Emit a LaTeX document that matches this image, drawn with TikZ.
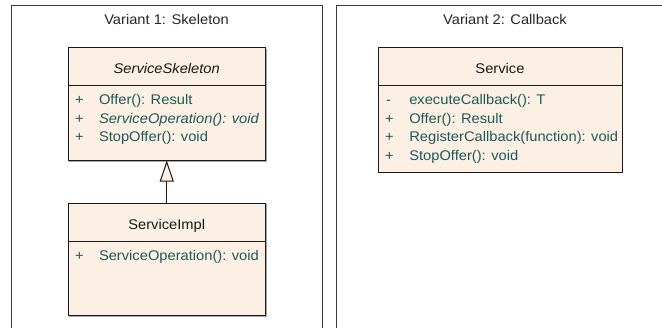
\documentclass[tikz,border=0pt]{standalone}
\usepackage{fontspec}
\setmainfont[FakeStretch=1.05]{Liberation Sans}
\usetikzlibrary{arrows.meta,shadows}
\definecolor{umlfill}{RGB}{251,240,227}
\definecolor{umltext}{RGB}{30,90,90}
\definecolor{framecol}{RGB}{60,60,60}
\tikzset{
  classbox/.style={draw=black!90,line width=1pt,fill=umlfill,inner sep=0pt,outer sep=0pt,
    drop shadow={shadow xshift=1.2pt,shadow yshift=-1.2pt,opacity=0.35,fill=black}},
  divider/.style={draw=black!90,line width=0.8pt},
  frameline/.style={draw=framecol,line width=1pt},
  txt/.style={inner sep=0pt,outer sep=0pt,font=\fontsize{14}{16}\selectfont},
  ftitle/.style={txt,text=black!85,anchor=base},
  ctitle/.style={txt,text=black!90,anchor=base},
  attr/.style={txt,text=umltext,anchor=base west},
  genarrow/.style={line width=1pt,draw=black!90,-{Triangle[open,length=21pt,width=14pt,fill=umlfill]}}
}
\begin{document}
\begin{tikzpicture}[x=1pt,y=-1pt]
\useasboundingbox (0,0) rectangle (662,327);
\fill[white] (0,0) rectangle (662,327);
% frames
\draw[frameline] (11,340) -- (11,5) -- (322,5) -- (322,340);
\draw[frameline] (336,340) -- (336,5) -- (675,5);
\node[ftitle] (f1title) at (166.5,24.3) {Variant 1: Skeleton};
\node[ftitle] (f2title) at (505,24.3) {Variant 2: Callback};
% ServiceSkeleton
\node[classbox,minimum width=197.5pt,minimum height=113pt] (skel) at (166.75,104) {};
\draw[divider] (68,85) -- (265.5,85);
\node[ctitle] (skelname) at (166.75,73.3) {\itshape ServiceSkeleton};
\node[attr] (sk1v) at (75,104.3) {+};
\node[attr] (sk1) at (99,104.3) {Offer(): Result};
\node[attr] (sk2v) at (75,123) {+};
\node[attr] (sk2) at (99,123) {\itshape ServiceOperation(): void};
\node[attr] (sk3v) at (75,141.7) {+};
\node[attr] (sk3) at (99,141.7) {StopOffer(): void};
% ServiceImpl
\node[classbox,minimum width=197.5pt,minimum height=112.5pt] (impl) at (166.75,259.25) {};
\draw[divider] (68,241) -- (265.5,241);
\node[ctitle] (implname) at (166.75,229.3) {ServiceImpl};
\node[attr] (im1v) at (75,260) {+};
\node[attr] (im1) at (99,260) {ServiceOperation(): void};
% generalization
\draw[genarrow] (impl.north) -- (skel.south);
% Service
\node[classbox,minimum width=244pt,minimum height=124.5pt] (svc) at (500,109.75) {};
\draw[divider] (378,85) -- (622,85);
\node[ctitle] (svcname) at (500,73.3) {Service};
\node[attr] (sv1v) at (386,104.3) {-};
\node[attr] (sv1) at (409.3,104.3) {executeCallback(): T};
\node[attr] (sv2v) at (385,123) {+};
\node[attr] (sv2) at (409.3,123) {Offer(): Result};
\node[attr] (sv3v) at (385,141.7) {+};
\node[attr] (sv3) at (409.3,141.7) {RegisterCallback(function): void};
\node[attr] (sv4v) at (385,160.3) {+};
\node[attr] (sv4) at (409.3,160.3) {StopOffer(): void};
\end{tikzpicture}
\end{document}
